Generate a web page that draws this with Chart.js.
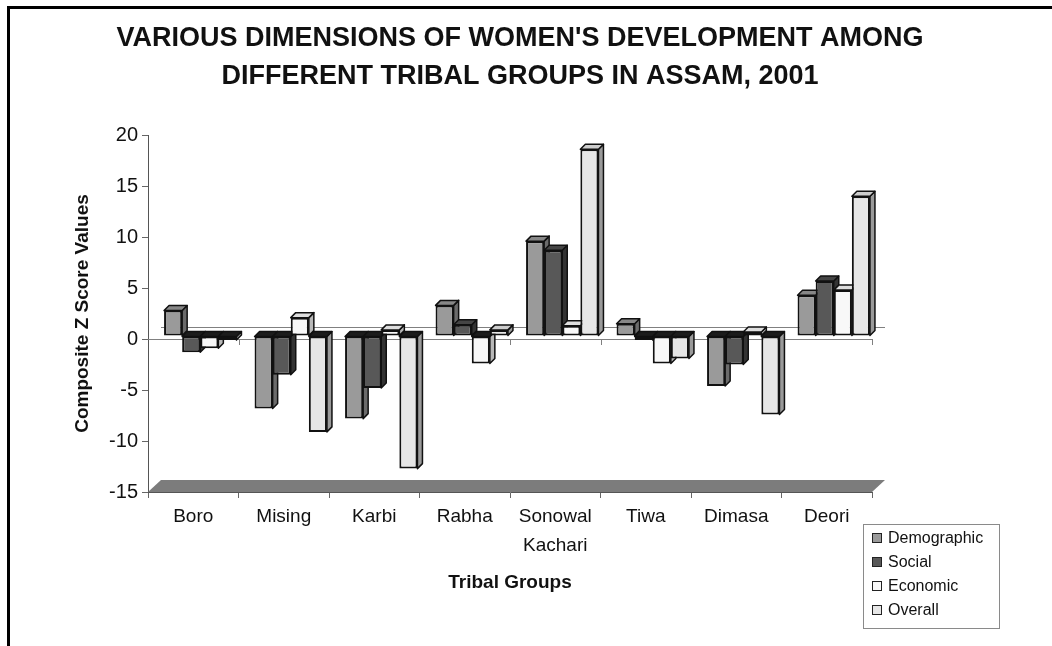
<!DOCTYPE html>
<html>
<head>
<meta charset="utf-8">
<script src="https://cdn.jsdelivr.net/npm/chart.js@4.4.1/dist/chart.umd.min.js"></script>
<style>
  html, body { margin: 0; padding: 0; background: #fff; }
  #wrap { width: 1052px; height: 646px; position: relative; }
</style>
</head>
<body>
<div id="wrap"><canvas id="tribalChart"></canvas></div>
<script>
// values (composite z scores)
const groups = ['Boro', 'Mising', 'Karbi', 'Rabha', ['Sonowal', 'Kachari'], 'Tiwa', 'Dimasa', 'Deori'];
const seriesNames = ['Demographic', 'Social', 'Economic', 'Overall'];
const demographic = [2.5, -7.1, -8.1, 3.0, 9.3, 1.2, -4.9, 4.0];
const social = [-1.6, -3.8, -5.1, 1.1, 8.4, -0.4, -2.8, 5.4];
const economic = [-1.2, 1.8, 0.6, -2.7, 1.0, -2.7, 0.4, 4.5];
const overall = [-0.4, -9.4, -13.0, 0.6, 18.3, -2.2, -7.7, 13.7];
const yMin = -15, yMax = 20, yStep = 5;

const FONT = "'Liberation Sans', Arial, sans-serif";

// front, top, side shades for each series
const shades = [
  ['#9a9a9a', '#878787', '#6b6b6b'],
  ['#585858', '#454545', '#333333'],
  ['#f8f8f8', '#dedede', '#b8b8b8'],
  ['#e6e6e6', '#cdcdcd', '#9a9a9a']
];

const OFF = { x: 7, y: -3 };     // bars stand a little behind the front plane
const DEPTH = { x: 5, y: -5 };   // depth of each bar
const WALL = { x: 13, y: -12 };  // back wall / floor depth

function poly(ctx, pts, fill) {
  ctx.beginPath();
  ctx.moveTo(pts[0][0], pts[0][1]);
  for (let i = 1; i < pts.length; i++) ctx.lineTo(pts[i][0], pts[i][1]);
  ctx.closePath();
  ctx.fillStyle = fill;
  ctx.fill();
  ctx.stroke();
}

const bars3d = {
  id: 'bars3d',
  beforeDatasetsDraw(chart) {
    const { ctx, chartArea: a, scales: { y } } = chart;
    const y0 = y.getPixelForValue(0);
    const yf = y.getPixelForValue(yMin);
    const catW = (a.right - a.left) / groups.length;

    ctx.save();
    // floor
    ctx.fillStyle = '#7c7c7c';
    ctx.beginPath();
    ctx.moveTo(a.left, yf);
    ctx.lineTo(a.right, yf);
    ctx.lineTo(a.right + WALL.x, yf + WALL.y);
    ctx.lineTo(a.left + WALL.x, yf + WALL.y);
    ctx.closePath();
    ctx.fill();
    // zero line on back wall
    ctx.strokeStyle = '#808080';
    ctx.lineWidth = 1;
    ctx.beginPath();
    ctx.moveTo(a.left + WALL.x, Math.round(y0 + WALL.y) + 0.5);
    ctx.lineTo(a.right + WALL.x, Math.round(y0 + WALL.y) + 0.5);
    ctx.stroke();
    // zero line in front with category ticks
    ctx.beginPath();
    ctx.moveTo(a.left, Math.round(y0) + 0.5);
    ctx.lineTo(a.right, Math.round(y0) + 0.5);
    for (let i = 1; i <= groups.length; i++) {
      const tx = Math.round(a.left + i * catW) + 0.5;
      ctx.moveTo(tx, y0);
      ctx.lineTo(tx, y0 + 6);
    }
    ctx.stroke();
    ctx.restore();

    // sides and tops of the bars, then the library draws the fronts on top
    ctx.save();
    ctx.translate(OFF.x, OFF.y);
    ctx.strokeStyle = '#111';
    ctx.lineWidth = 1.5;
    ctx.lineJoin = 'round';
    const metas = chart.data.datasets.map((d, i) => chart.getDatasetMeta(i));
    for (let c = 0; c < groups.length; c++) {
      metas.forEach((meta, d) => {
        const bar = meta.data[c];
        const v = chart.data.datasets[d].data[c];
        const xl = bar.x - bar.width / 2, xr = bar.x + bar.width / 2;
        const yt = Math.min(bar.y, bar.base), yb = Math.max(bar.y, bar.base);
        poly(ctx, [[xr, yt], [xr + DEPTH.x, yt + DEPTH.y], [xr + DEPTH.x, yb + DEPTH.y], [xr, yb]], shades[d][2]);
        poly(ctx, [[xl, yt], [xr, yt], [xr + DEPTH.x, yt + DEPTH.y], [xl + DEPTH.x, yt + DEPTH.y]],
          v < 0 ? '#1c1c1c' : shades[d][1]);
      });
    }
  },
  afterDatasetsDraw(chart) {
    chart.ctx.restore();
  },
  afterDraw(chart) {
    const ctx = chart.ctx;
    ctx.save();
    // outer frame
    ctx.fillStyle = '#000';
    ctx.fillRect(7, 6, 1045, 3);
    ctx.fillRect(7, 6, 3, 640);
    // legend
    const lx = 863, ly = 524, lw = 136, lh = 104;
    ctx.strokeStyle = '#8a8a8a';
    ctx.lineWidth = 1;
    ctx.strokeRect(lx + 0.5, ly + 0.5, lw, lh);
    ctx.font = '16px ' + FONT;
    ctx.textBaseline = 'middle';
    ctx.textAlign = 'left';
    chart.data.datasets.forEach((ds, i) => {
      const cy = ly + 14 + i * 24;
      ctx.fillStyle = ds.backgroundColor;
      ctx.fillRect(lx + 9, cy - 5, 10, 10);
      ctx.strokeStyle = '#222';
      ctx.strokeRect(lx + 9.5, cy - 4.5, 9, 9);
      ctx.fillStyle = '#111';
      ctx.fillText(ds.label, lx + 25, cy + 1);
    });
    ctx.restore();
  }
};

const seriesData = [demographic, social, economic, overall];

new Chart(document.getElementById('tribalChart'), {
  type: 'bar',
  data: {
    labels: groups,
    datasets: seriesNames.map((name, i) => ({
      label: name,
      data: seriesData[i],
      backgroundColor: shades[i][0],
      borderColor: '#111',
      borderWidth: 2,
      borderSkipped: false,
      categoryPercentage: 0.8,
      barPercentage: 1.0
    }))
  },
  options: {
    responsive: true,
    maintainAspectRatio: false,
    animation: false,
    devicePixelRatio: 1,
    layout: { padding: { left: 0, right: 12, top: 0, bottom: 0 } },
    plugins: {
      legend: { display: false },
      tooltip: { enabled: false },
      title: {
        display: true,
        text: ["VARIOUS DIMENSIONS OF WOMEN'S DEVELOPMENT AMONG", 'DIFFERENT TRIBAL GROUPS IN ASSAM, 2001'],
        color: '#111',
        font: { family: FONT, size: 27, weight: 'bold', lineHeight: 1.426 },
        padding: { top: 19, bottom: 39 }
      }
    },
    scales: {
      x: {
        type: 'category',
        offset: true,
        grid: { drawOnChartArea: false, offset: true, tickLength: 6, color: '#666' },
        border: { display: true, color: '#555' },
        ticks: {
          color: '#111',
          font: { family: FONT, size: 19, lineHeight: 1.5 },
          padding: 5,
          maxRotation: 0,
          autoSkip: false
        },
        title: {
          display: true,
          text: 'Tribal Groups',
          color: '#111',
          font: { family: FONT, size: 19, weight: 'bold' },
          padding: { top: 0, bottom: 52 }
        },
        afterFit(s) { s.height = 154; }
      },
      y: {
        min: yMin,
        max: yMax,
        ticks: {
          stepSize: yStep,
          color: '#111',
          font: { family: FONT, size: 20 },
          padding: 4
        },
        grid: { drawOnChartArea: false, tickLength: 6, color: '#666' },
        border: { display: true, color: '#555' },
        title: {
          display: true,
          text: 'Composite Z Score Values',
          color: '#111',
          font: { family: FONT, size: 19, weight: 'bold' },
          padding: { top: 71, bottom: 0 }
        },
        afterFit(s) { s.width = 148; }
      },
      y2: {
        position: 'right',
        display: true,
        grid: { display: false },
        border: { display: false },
        ticks: { display: false },
        afterFit(s) { s.width = 168; }
      }
    }
  },
  plugins: [bars3d]
});
</script>
</body>
</html>
